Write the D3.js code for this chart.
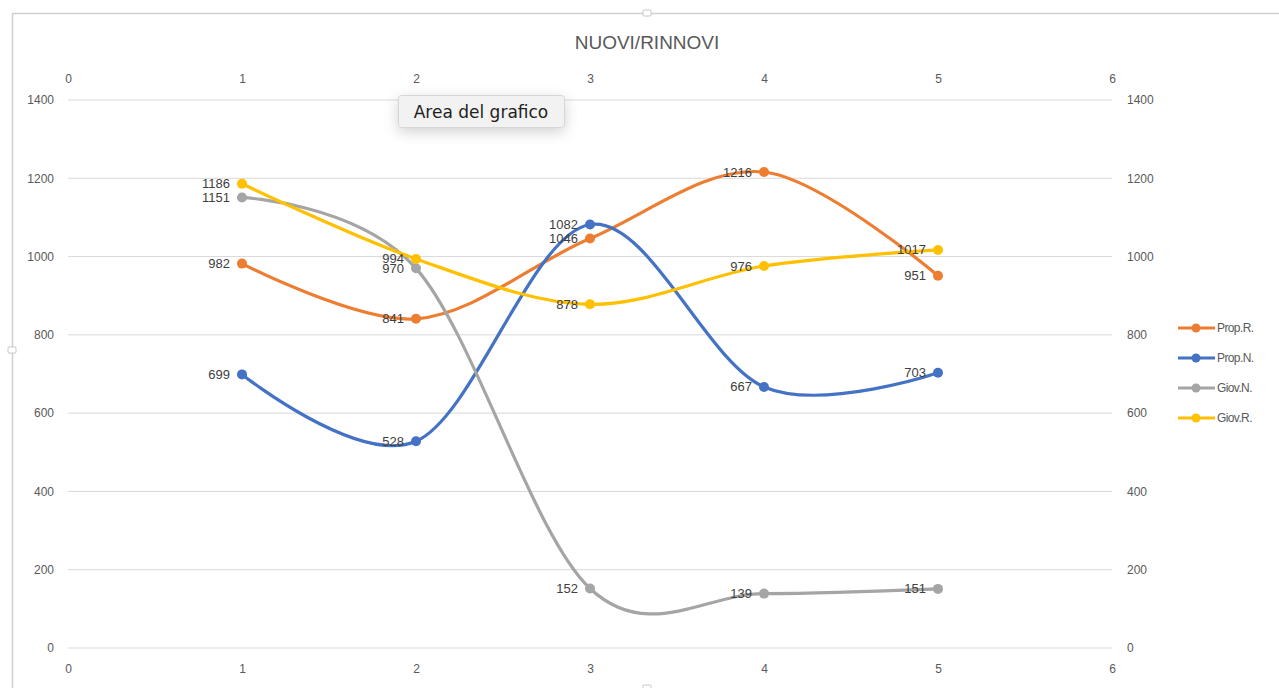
<!DOCTYPE html>
<html><head><meta charset="utf-8">
<script src="https://cdn.jsdelivr.net/npm/d3@7"></script>
<style>
body{margin:0;background:#fff;}
svg{display:block;font-family:"Liberation Sans","DejaVu Sans",sans-serif;}
</style></head>
<body><svg id="c" width="1279" height="688"></svg>
<script>
const xValues = [1, 2, 3, 4, 5];
const seriesNames = ["Prop.R.", "Prop.N.", "Giov.N.", "Giov.R."];
const propR = [982, 841, 1046, 1216, 951];
const propN = [699, 528, 1082, 667, 703];
const giovN = [1151, 970, 152, 139, 151];
const giovR = [1186, 994, 878, 976, 1017];
const seriesColors = ["#ED7D31", "#4472C4", "#A5A5A5", "#FFC000"];
const xTicks = [0, 1, 2, 3, 4, 5, 6];
const yTicks = [0, 200, 400, 600, 800, 1000, 1200, 1400];
const title = "NUOVI/RINNOVI";

const series = [propR, propN, giovN, giovR];
const svg = d3.select("#c");
const x = d3.scaleLinear().domain([0, 6]).range([68, 1112]);
const y = d3.scaleLinear().domain([0, 1400]).range([648, 100]);
const txt = "#595959";

// frame
svg.append("rect").attr("x", 12.5).attr("y", 13.5).attr("width", 1290).attr("height", 700)
  .attr("fill", "none").attr("stroke", "#d0d0d0").attr("stroke-width", 1.5);
[[647,13],[12,350],[647,688]].forEach(([a,b])=>{
  svg.append("rect").attr("x",a-4).attr("y",b-3).attr("width",8).attr("height",6).attr("rx",1)
    .attr("fill","#fff").attr("stroke","#c8c8c8");
});

// title
svg.append("text").attr("x", 647).attr("y", 49).attr("text-anchor", "middle")
  .attr("font-size", 19).attr("fill", txt).text(title);

// grid
svg.append("g").selectAll("line").data(yTicks).join("line")
  .attr("x1", x(0)).attr("x2", x(6)).attr("y1", d => y(d)).attr("y2", d => y(d))
  .attr("stroke", "#d9d9d9").attr("stroke-width", 1);

// axes (no domain lines)
function styleAxis(g){ g.select(".domain").remove(); g.selectAll(".tick line").remove();
  g.selectAll("text").attr("fill", txt).attr("font-size", 12).attr("font-family","Liberation Sans, sans-serif"); }
const fmt = d3.format("d");
svg.append("g").attr("transform", `translate(0,${y(0)+10})`)
  .call(d3.axisBottom(x).tickValues(xTicks).tickFormat(fmt).tickSize(0).tickPadding(6)).call(styleAxis);
svg.append("g").attr("transform", `translate(0,${y(1400)-11})`)
  .call(d3.axisTop(x).tickValues(xTicks).tickFormat(fmt).tickSize(0).tickPadding(6)).call(styleAxis);
svg.append("g").attr("transform", `translate(${x(0)-14},0)`)
  .call(d3.axisLeft(y).tickValues(yTicks).tickFormat(fmt).tickSize(0).tickPadding(0)).call(styleAxis);
svg.append("g").attr("transform", `translate(${x(6)+15},0)`)
  .call(d3.axisRight(y).tickValues(yTicks).tickFormat(fmt).tickSize(0).tickPadding(0)).call(styleAxis);

// lines
const line = d3.line().x((d,i) => x(xValues[i])).y(d => y(d)).curve(d3.curveCatmullRom.alpha(0));
series.forEach((s, k) => {
  svg.append("path").datum(s).attr("d", line).attr("fill", "none")
    .attr("stroke", seriesColors[k]).attr("stroke-width", 3.2).attr("stroke-linecap","round");
  svg.append("g").selectAll("circle").data(s).join("circle")
    .attr("cx", (d,i) => x(xValues[i])).attr("cy", d => y(d)).attr("r", 5)
    .attr("fill", seriesColors[k]);
});
// labels
series.forEach((s, k) => {
  svg.append("g").selectAll("text").data(s).join("text")
    .attr("x", (d,i) => x(xValues[i]) - 12).attr("y", d => y(d)).attr("dy", "0.35em")
    .attr("text-anchor", "end").attr("font-size", 13).attr("fill", "#404040")
    .attr("font-family","Liberation Sans Narrow, Liberation Sans, sans-serif")
    .text(d => d);
});

// legend
const leg = svg.append("g");
seriesNames.forEach((n, k) => {
  const yy = 328 + k * 30;
  leg.append("line").attr("x1", 1178).attr("x2", 1215).attr("y1", yy).attr("y2", yy)
    .attr("stroke", seriesColors[k]).attr("stroke-width", 3.2);
  leg.append("circle").attr("cx", 1196).attr("cy", yy).attr("r", 4.5).attr("fill", seriesColors[k]);
  leg.append("text").attr("x", 1217).attr("y", yy).attr("dy", "0.35em").attr("font-size", 12)
    .attr("fill", txt).attr("font-family","Liberation Sans Narrow, Liberation Sans, sans-serif")
    .attr("letter-spacing", -0.6).text(n);
});

// tooltip
const defs = svg.append("defs");
const f = defs.append("filter").attr("id","sh").attr("x","-30%").attr("y","-60%").attr("width","160%").attr("height","260%");
f.append("feDropShadow").attr("dx",0).attr("dy",4).attr("stdDeviation",7).attr("flood-color","#000").attr("flood-opacity",0.18);
const tt = svg.append("g");
tt.append("rect").attr("x", 398.5).attr("y", 95.5).attr("width", 166).attr("height", 32).attr("rx", 3)
  .attr("fill", "#f2f2f2").attr("stroke", "#d6d6d6").attr("filter","url(#sh)");
tt.append("text").attr("x", 481).attr("y", 118).attr("text-anchor","middle").attr("font-size", 17)
  .attr("fill", "#222").attr("font-family","DejaVu Sans, sans-serif").text("Area del grafico");
</script></body></html>
